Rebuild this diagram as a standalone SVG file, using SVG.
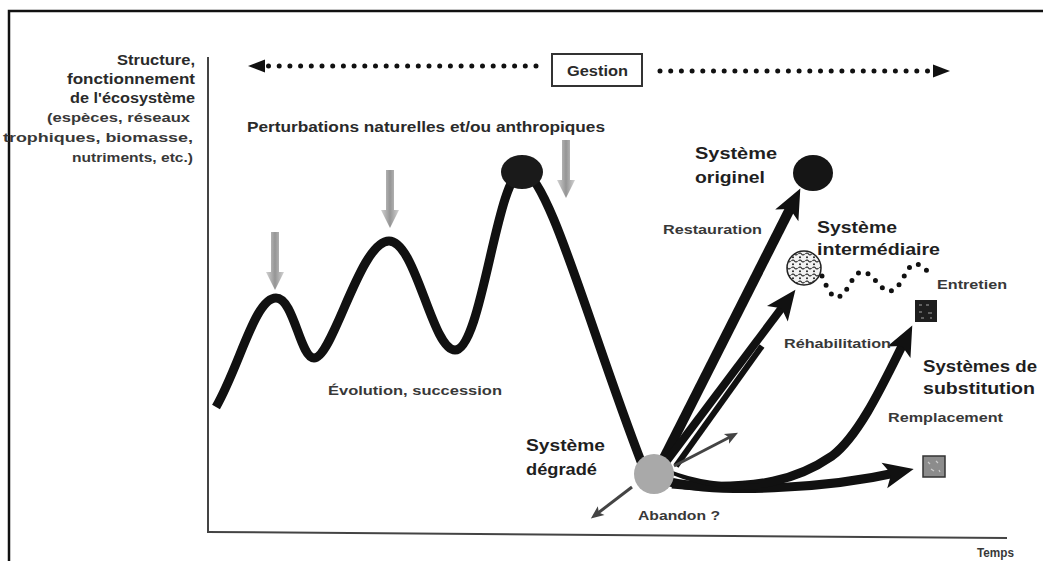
<svg xmlns="http://www.w3.org/2000/svg" width="1043" height="561" viewBox="0 0 1043 561">
<style>
 text { font-family: "Liberation Sans", Arial, sans-serif; font-weight: bold; fill: #2a2a2a; }
 .big { font-size: 17px; fill: #1f1f1f; }
 .mid { font-size: 14.5px; }
 .sm { font-size: 13px; fill: #383838; }
 .thick { fill: none; stroke: #111; stroke-width: 9; }
 .dots { fill: none; stroke: #111; stroke-width: 5; stroke-linecap: round; stroke-dasharray: 0 10.7; }
 .wdots { fill: none; stroke: #111; stroke-width: 5; stroke-linecap: round; stroke-dasharray: 0 10; }
 .thin { fill: none; stroke: #444; stroke-width: 3; }
 .axis { fill: none; stroke: #444; stroke-width: 2; }
</style>
<defs>
 <marker id="bigHead" markerUnits="userSpaceOnUse" markerWidth="32" markerHeight="28" refX="16" refY="13" orient="auto" overflow="visible"><path d="M0,0 L30,13 L0,26 L7,13 Z" fill="#111"/></marker>
 <marker id="dotHead" markerUnits="userSpaceOnUse" markerWidth="18" markerHeight="14" refX="1" refY="6.5" orient="auto" overflow="visible"><path d="M0,0 L17,6.5 L0,13 Z" fill="#111"/></marker>
 <marker id="grayHead" markerUnits="userSpaceOnUse" markerWidth="14" markerHeight="12" refX="4" refY="5.5" orient="auto" overflow="visible"><path d="M0,0 L13,5.5 L0,11 L3,5.5 Z" fill="#444"/></marker>
 <linearGradient id="pgrad" x1="0" y1="0" x2="1" y2="0">
  <stop offset="0" stop-color="#d2d2d2"/><stop offset="0.5" stop-color="#959595"/><stop offset="1" stop-color="#d2d2d2"/>
 </linearGradient>
 <path id="parrow" d="M-4,0 H4 V40 H9 L0,58 L-9,40 H-4 Z" fill="url(#pgrad)"/>
 <pattern id="squig" width="7" height="7" patternUnits="userSpaceOnUse">
  <rect width="7" height="7" fill="#f2f2f2"/>
  <path d="M0.5,2 q1.5,-2 3,0 t3,0" stroke="#222" stroke-width="1.2" fill="none"/>
  <circle cx="2" cy="5.3" r="1" fill="#222"/>
 </pattern>
</defs>
<rect width="1043" height="561" fill="#fff"/>

<g id="frame">
 <path d="M9,561 V11 H1043" fill="none" stroke="#111" stroke-width="2.5"/>
</g>

<g id="axes">
 <line class="axis" x1="208" y1="57" x2="208" y2="532"/>
 <line class="axis" x1="207" y1="532" x2="1007" y2="538"/>
 <text class="sm" x="977" y="557" textLength="37" lengthAdjust="spacingAndGlyphs">Temps</text>
</g>

<g id="ylabel">
 <text class="mid" x="117" y="65" textLength="78" lengthAdjust="spacingAndGlyphs">Structure,</text>
 <text class="mid" x="67" y="84" textLength="128" lengthAdjust="spacingAndGlyphs">fonctionnement</text>
 <text class="mid" x="70" y="103" textLength="125" lengthAdjust="spacingAndGlyphs">de l'écosystème</text>
 <text class="sm" x="47" y="122" textLength="143" lengthAdjust="spacingAndGlyphs">(espèces, réseaux</text>
 <text class="sm" x="3" y="142" textLength="190" lengthAdjust="spacingAndGlyphs">trophiques, biomasse,</text>
 <text class="sm" x="72" y="162" textLength="121" lengthAdjust="spacingAndGlyphs">nutriments, etc.)</text>
</g>

<g id="gestion">
 <rect x="552" y="54" width="90" height="32" fill="#fff" stroke="#333" stroke-width="2"/>
 <text class="mid" x="567" y="76" textLength="61" lengthAdjust="spacingAndGlyphs">Gestion</text>
</g>

<g id="perturbations">
 <text class="mid" x="247" y="132" textLength="358" lengthAdjust="spacingAndGlyphs">Perturbations naturelles et/ou anthropiques</text>
 <use href="#parrow" x="275" y="232"/>
 <use href="#parrow" x="390" y="170"/>
 <use href="#parrow" x="566" y="140"/>
</g>

<g id="connectors">
 <line class="dots" x1="536" y1="66" x2="264" y2="66" marker-end="url(#dotHead)"/>
 <line class="dots" x1="660" y1="71" x2="934" y2="71" marker-end="url(#dotHead)"/>
 <path class="thick" d="M216,407 C240,365 255,298 276,298 C294,298 300,358 314,358 C333,358 360,241 389,241 C416,241 432,350 455,350 C482,350 497,172 522,172 C548,172 590,330 642,464"/>
 <line class="thick" style="stroke-width:10" x1="662" y1="462" x2="794" y2="201" marker-end="url(#bigHead)"/>
 <line class="thick" style="stroke-width:8" x1="666" y1="462" x2="787" y2="301" marker-end="url(#bigHead)"/>
 <line class="thick" style="stroke-width:6" x1="676" y1="466" x2="762" y2="346"/>
 <path class="thick" d="M670,482 C720,493 820,490 900,472" marker-end="url(#bigHead)"/>
 <path class="thick" d="M672,484 C760,492 800,478 832,456 C860,435 885,380 906,338" marker-end="url(#bigHead)"/>
 <path d="M662,470 Q700,490 760,490 L760,484 Q705,484 670,470 Z" fill="#111"/>
 <line class="thin" x1="674" y1="466" x2="730" y2="437" marker-end="url(#grayHead)"/>
 <line class="thin" x1="632" y1="487" x2="598" y2="513" marker-end="url(#grayHead)"/>
 <path class="wdots" d="M822,276 C828,290 832,298 838,297 C848,295 852,272 862,272 C874,272 880,292 890,291 C902,290 906,264 915,264 C922,264 926,270 930,274"/>
</g>

<g id="evolution">
 <text class="sm" x="328" y="395" textLength="174" lengthAdjust="spacingAndGlyphs">Évolution, succession</text>
</g>

<g id="peak">
 <ellipse cx="522" cy="172" rx="21" ry="17" fill="#1a1a1a"/>
</g>

<g id="original">
 <ellipse cx="813" cy="173" rx="20" ry="18" fill="#151515"/>
 <text class="big" x="695" y="159" textLength="82" lengthAdjust="spacingAndGlyphs">Système</text>
 <text class="big" x="695" y="183" textLength="70" lengthAdjust="spacingAndGlyphs">originel</text>
</g>

<g id="restauration">
 <text class="sm" x="663" y="234" textLength="99" lengthAdjust="spacingAndGlyphs">Restauration</text>
</g>

<g id="intermediate">
 <circle cx="804" cy="268" r="17" fill="url(#squig)" stroke="#222" stroke-width="1.5"/>
 <text class="big" x="817" y="233" textLength="80" lengthAdjust="spacingAndGlyphs">Système</text>
 <text class="big" x="817" y="255" textLength="123" lengthAdjust="spacingAndGlyphs">intermédiaire</text>
</g>

<g id="entretien">
 <text class="sm" x="937" y="289" textLength="70" lengthAdjust="spacingAndGlyphs">Entretien</text>
</g>

<g id="rehabilitation">
 <text class="sm" x="784" y="348" textLength="107" lengthAdjust="spacingAndGlyphs">Réhabilitation</text>
</g>

<g id="substitution1">
 <rect x="915" y="300" width="22" height="22" fill="#1e1e1e"/>
 <path d="M919,305 h3 M926,305 h3 M919,312 h3 M928,313 h4 M921,318 h3 M930,318 h2" stroke="#777" stroke-width="1.5"/>
</g>

<g id="substitution-label">
 <text class="big" x="923" y="372" textLength="114" lengthAdjust="spacingAndGlyphs">Systèmes de</text>
 <text class="big" x="923" y="394" textLength="112" lengthAdjust="spacingAndGlyphs">substitution</text>
 <text class="sm" x="888" y="422" textLength="115" lengthAdjust="spacingAndGlyphs">Remplacement</text>
</g>

<g id="substitution2">
 <rect x="923" y="456" width="22" height="21" fill="#8c8c8c" stroke="#333" stroke-width="1.5"/>
 <path d="M928,462 l2,2 M936,461 l2,2 M931,469 l3,2 M939,470 l1,2" stroke="#ccc" stroke-width="1.2"/>
</g>

<g id="degraded">
 <circle cx="654" cy="474" r="20" fill="#a9a9a9"/>
 <text class="big" x="526" y="451" textLength="79" lengthAdjust="spacingAndGlyphs">Système</text>
 <text class="big" x="526" y="475" textLength="71" lengthAdjust="spacingAndGlyphs">dégradé</text>
 <text class="sm" x="638" y="520" textLength="82" lengthAdjust="spacingAndGlyphs">Abandon ?</text>
</g>
</svg>
